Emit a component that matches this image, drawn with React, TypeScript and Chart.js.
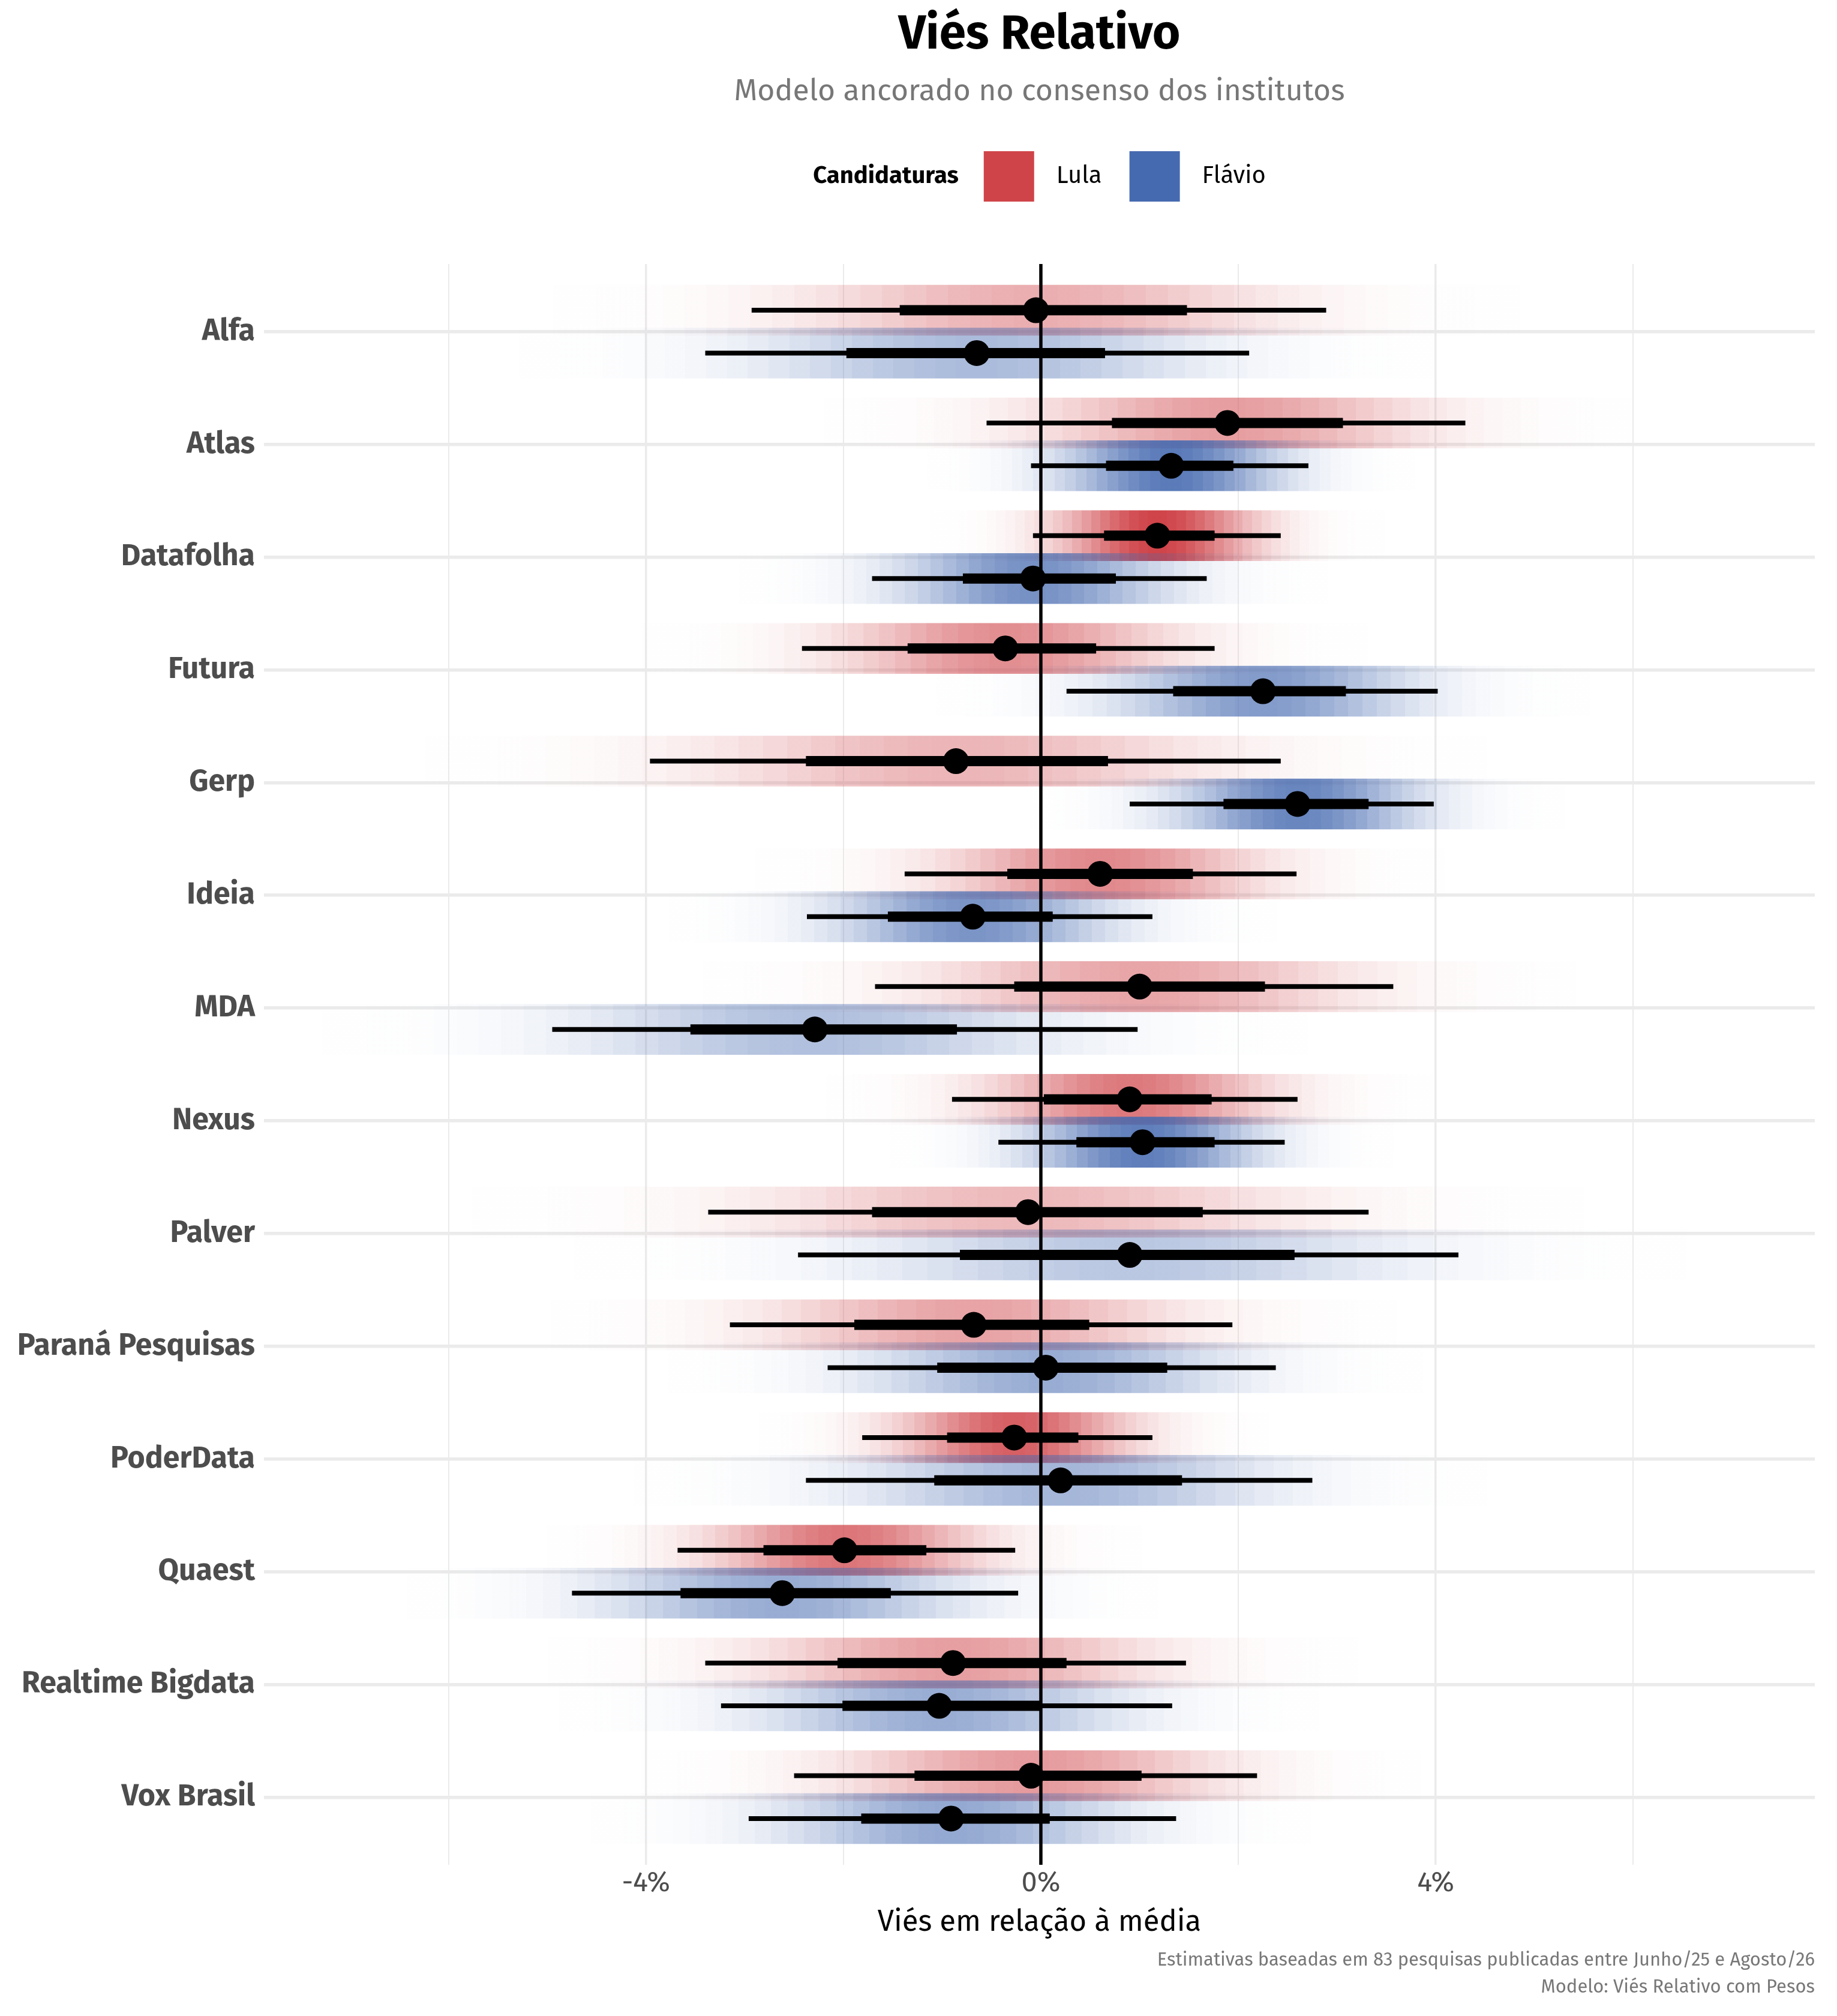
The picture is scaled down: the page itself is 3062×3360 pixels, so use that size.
import React, { useEffect, useRef } from 'react';
import { Chart, registerables } from 'chart.js';

Chart.register(...registerables);

// ---------------- DATA ----------------
const CATEGORIES = [
  'Alfa', 'Atlas', 'Datafolha', 'Futura', 'Gerp', 'Ideia', 'MDA', 'Nexus',
  'Palver', 'Paraná Pesquisas', 'PoderData', 'Quaest', 'Realtime Bigdata', 'Vox Brasil',
];
const SERIES = ['Lula', 'Flávio'];

const LULA_EST = [-0.05, 1.89, 1.18, -0.36, -0.86, 0.60, 1.00, 0.90, -0.13, -0.68, -0.27, -1.99, -0.89, -0.10];
const LULA_LO_INNER = [-1.43, 0.72, 0.64, -1.35, -2.38, -0.34, -0.27, 0.03, -1.71, -1.89, -0.95, -2.81, -2.06, -1.28];
const LULA_HI_INNER = [1.48, 3.06, 1.76, 0.56, 0.68, 1.54, 2.27, 1.73, 1.64, 0.49, 0.38, -1.16, 0.26, 1.02];
const LULA_LO_OUTER = [-2.93, -0.55, -0.08, -2.42, -3.96, -1.38, -1.68, -0.90, -3.37, -3.15, -1.81, -3.68, -3.40, -2.50];
const LULA_HI_OUTER = [2.89, 4.30, 2.43, 1.76, 2.43, 2.59, 3.57, 2.60, 3.32, 1.94, 1.13, -0.26, 1.47, 2.19];

const FLAVIO_EST = [-0.65, 1.32, -0.08, 2.25, 2.60, -0.69, -2.29, 1.03, 0.90, 0.05, 0.20, -2.62, -1.03, -0.91];
const FLAVIO_LO_INNER = [-1.97, 0.66, -0.79, 1.34, 1.85, -1.55, -3.55, 0.36, -0.82, -1.05, -1.08, -3.65, -2.01, -1.82];
const FLAVIO_HI_INNER = [0.65, 1.95, 0.76, 3.09, 3.32, 0.12, -0.85, 1.76, 2.57, 1.28, 1.43, -1.52, 0.00, 0.09];
const FLAVIO_LO_OUTER = [-3.40, -0.10, -1.71, 0.26, 0.90, -2.37, -4.95, -0.43, -2.46, -2.16, -2.38, -4.75, -3.24, -2.96];
const FLAVIO_HI_OUTER = [2.11, 2.71, 1.68, 4.02, 3.98, 1.13, 0.98, 2.47, 4.23, 2.38, 2.75, -0.23, 1.33, 1.37];

const X_TICKS = [-6, -4, -2, 0, 2, 4, 6];
const X_LABELED = [-4, 0, 4];
const X_MIN = -7.87;
const X_MAX = 7.84;
const Y_MIN = -0.6;
const Y_MAX = 13.6;
const REF_LINE_X = 0;

const TITLE = 'Viés Relativo';
const SUBTITLE = 'Modelo ancorado no consenso dos institutos';
const LEGEND_TITLE = 'Candidaturas';
const X_TITLE = 'Viés em relação à média';
const CAPTION = [
  'Estimativas baseadas em 83 pesquisas publicadas entre Junho/25 e Agosto/26',
  'Modelo: Viés Relativo com Pesos',
];

// ---------------- STYLE ----------------
const W = 3062;
const H = 3360;
const FONT = "'Fira Sans', Roboto, 'Noto Sans', sans-serif";
const COLORS: number[][] = [[207, 68, 73], [70, 106, 176]];
const OFFSETS = [-0.19, 0.19];
const BAND_HEIGHT = 0.45;
const EXTENT = 3.6;
const STEP = 0.15;
const PEAK_SIGMA = 0.64;

const EST = [LULA_EST, FLAVIO_EST];
const LO_IN = [LULA_LO_INNER, FLAVIO_LO_INNER];
const HI_IN = [LULA_HI_INNER, FLAVIO_HI_INNER];
const LO_OUT = [LULA_LO_OUTER, FLAVIO_LO_OUTER];
const HI_OUT = [LULA_HI_OUTER, FLAVIO_HI_OUTER];

const sigmaOf = (s: number, i: number) => (HI_OUT[s][i] - LO_OUT[s][i]) / (2 * 1.96);

function bandGradient(chart: any, s: number, i: number) {
  const xs = chart.scales?.x;
  const [r, g, b] = COLORS[s];
  if (!xs || !chart.chartArea) return `rgba(${r},${g},${b},0.3)`;
  const sd = sigmaOf(s, i);
  const c = EST[s][i];
  const x0 = xs.getPixelForValue(c - EXTENT * sd);
  const x1 = xs.getPixelForValue(c + EXTENT * sd);
  if (!isFinite(x0) || !isFinite(x1) || x1 <= x0) return `rgba(${r},${g},${b},0.3)`;
  const grad = chart.ctx.createLinearGradient(x0, 0, x1, 0);
  const peak = Math.min(1, PEAK_SIGMA / sd);
  const n = Math.round((2 * EXTENT) / STEP);
  for (let k = 0; k < n; k++) {
    const zc = -EXTENT + (k + 0.5) * STEP;
    const a = peak * Math.exp(-0.5 * zc * zc);
    const col = `rgba(${r},${g},${b},${a.toFixed(4)})`;
    grad.addColorStop(k / n, col);
    grad.addColorStop((k + 1) / n, col);
  }
  return grad;
}

function buildDatasets() {
  const ds: any[] = [];
  SERIES.forEach((name, s) => {
    ds.push({
      type: 'bar',
      label: name + ' densidade',
      indexAxis: 'y',
      grouped: false,
      categoryPercentage: 1,
      barPercentage: BAND_HEIGHT / (OFFSETS[1] - OFFSETS[0]),
      borderWidth: 0,
      borderSkipped: false,
      order: 10 - s,
      data: CATEGORIES.map((_, i) => {
        const sd = sigmaOf(s, i);
        return { x: [EST[s][i] - EXTENT * sd, EST[s][i] + EXTENT * sd], y: i + OFFSETS[s] };
      }),
      backgroundColor: (ctx: any) => bandGradient(ctx.chart, s, ctx.dataIndex),
    });
  });
  ds.push({
    type: 'line',
    label: 'zero',
    order: 5,
    data: [{ x: REF_LINE_X, y: Y_MIN }, { x: REF_LINE_X, y: Y_MAX }],
    borderColor: '#000',
    borderWidth: 5.5,
    pointRadius: 0,
    tension: 0,
  });
  const intervalData = (lo: number[][], hi: number[][]) => {
    const out: any[] = [];
    CATEGORIES.forEach((_, i) => {
      SERIES.forEach((__, s) => {
        out.push({ x: lo[s][i], y: i + OFFSETS[s] });
        out.push({ x: hi[s][i], y: i + OFFSETS[s] });
        out.push({ x: null, y: null });
      });
    });
    return out;
  };
  ds.push({
    type: 'line', label: 'outer', order: 3, data: intervalData(LO_OUT, HI_OUT),
    borderColor: '#000', borderWidth: 8, pointRadius: 0, spanGaps: false, tension: 0, borderCapStyle: 'butt',
  });
  ds.push({
    type: 'line', label: 'inner', order: 2, data: intervalData(LO_IN, HI_IN),
    borderColor: '#000', borderWidth: 17, pointRadius: 0, spanGaps: false, tension: 0, borderCapStyle: 'butt',
  });
  ds.push({
    type: 'scatter', label: 'pontos', order: 1,
    data: CATEGORIES.flatMap((_, i) => SERIES.map((__, s) => ({ x: EST[s][i], y: i + OFFSETS[s] }))),
    pointRadius: 21.5, pointBackgroundColor: '#000', pointBorderWidth: 0, showLine: false,
  });
  return ds;
}

const textPlugin = {
  id: 'texts',
  afterDraw(chart: any) {
    const { ctx, chartArea } = chart;
    const cx = (chartArea.left + chartArea.right) / 2;
    ctx.save();
    ctx.textBaseline = 'middle';
    ctx.textAlign = 'center';
    ctx.fillStyle = '#000';
    ctx.font = `bold 80px ${FONT}`;
    ctx.fillText(TITLE, cx, 59);
    ctx.fillStyle = '#777777';
    ctx.font = `50px ${FONT}`;
    ctx.fillText(SUBTITLE, cx, 153);

    // legend
    const ly = 294;
    const key = 84;
    const lf = 40;
    ctx.font = `bold ${lf}px ${FONT}`;
    const wT = ctx.measureText(LEGEND_TITLE).width;
    ctx.font = `${lf}px ${FONT}`;
    const wL = SERIES.map((t) => ctx.measureText(t).width);
    const gapTitle = 42, gapKey = 37, gapItem = 46;
    const total = wT + gapTitle + key + gapKey + wL[0] + gapItem + key + gapKey + wL[1];
    let x = cx - total / 2;
    ctx.textAlign = 'left';
    ctx.fillStyle = '#000';
    ctx.font = `bold ${lf}px ${FONT}`;
    ctx.fillText(LEGEND_TITLE, x, ly);
    x += wT + gapTitle;
    ctx.font = `${lf}px ${FONT}`;
    SERIES.forEach((t, s) => {
      const [r, g, b] = COLORS[s];
      ctx.fillStyle = `rgb(${r},${g},${b})`;
      ctx.fillRect(x, ly - key / 2, key, key);
      x += key + gapKey;
      ctx.fillStyle = '#000';
      ctx.fillText(t, x, ly);
      x += wL[s] + gapItem;
    });

    // caption
    ctx.textAlign = 'right';
    ctx.fillStyle = '#777777';
    ctx.font = `31px ${FONT}`;
    ctx.fillText(CAPTION[0], chartArea.right, 3267);
    ctx.fillText(CAPTION[1], chartArea.right, 3312);
    ctx.restore();
  },
};

export default function App() {
  const ref = useRef<HTMLCanvasElement>(null);
  useEffect(() => {
    if (!ref.current) return;
    Chart.defaults.font.family = FONT;
    const chart = new Chart(ref.current, {
      type: 'scatter',
      data: { datasets: buildDatasets() },
      plugins: [textPlugin],
      options: {
        animation: false,
        responsive: false,
        devicePixelRatio: 1,
        layout: { padding: { top: 440, right: 37, bottom: 102, left: 0 } },
        plugins: { legend: { display: false }, tooltip: { enabled: false }, title: { display: false } },
        scales: {
          x: {
            type: 'linear',
            min: X_MIN,
            max: X_MAX,
            offset: false,
            afterBuildTicks: (scale: any) => { scale.ticks = X_TICKS.map((v) => ({ value: v })); },
            afterFit: (scale: any) => { scale.height = 150; },
            border: { display: false },
            grid: {
              offset: false,
              color: '#ebebeb',
              lineWidth: (c: any) => (X_LABELED.includes(c.tick?.value) ? 3.5 : 2),
              drawTicks: false,
            },
            ticks: {
              padding: 3,
              color: '#4d4d4d',
              font: { size: 47, family: FONT },
              callback: (v: any) => (X_LABELED.includes(Number(v)) ? `${v}%` : ''),
              maxRotation: 0,
              autoSkip: false,
            },
            title: {
              display: true,
              text: X_TITLE,
              color: '#000',
              font: { size: 49, family: FONT },
              padding: { top: 0, bottom: 24 },
            },
          },
          y: {
            type: 'linear',
            reverse: true,
            min: Y_MIN,
            max: Y_MAX,
            offset: false,
            afterBuildTicks: (scale: any) => { scale.ticks = CATEGORIES.map((_, i) => ({ value: i })); },
            afterFit: (scale: any) => { scale.width = 440; },
            border: { display: false },
            grid: { offset: false, color: '#ebebeb', lineWidth: 5.5, drawTicks: false },
            ticks: {
              padding: 15,
              color: '#4d4d4d',
              font: { size: 50, weight: 'bold', family: FONT },
              callback: (v: any) => CATEGORIES[Number(v)] ?? '',
              autoSkip: false,
            },
          },
        },
      } as any,
    });
    return () => chart.destroy();
  }, []);
  return (
    <div style={{ position: 'absolute', left: 0, top: 0, width: W, height: H, background: '#fff' }}>
      <canvas ref={ref} width={W} height={H} style={{ width: W, height: H, display: 'block' }} />
    </div>
  );
}
